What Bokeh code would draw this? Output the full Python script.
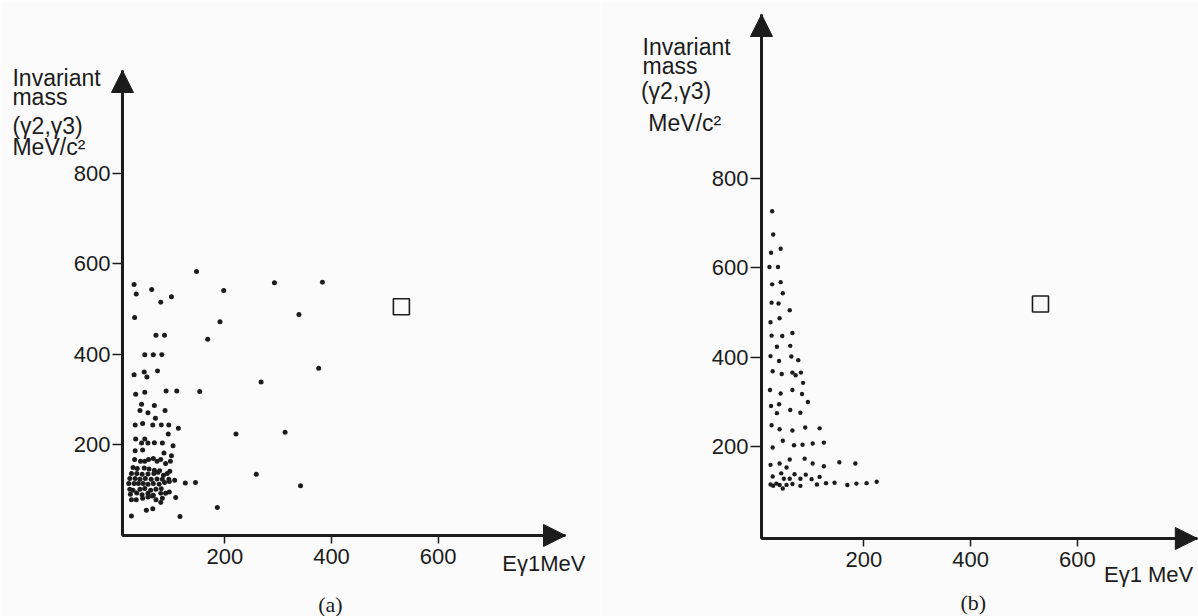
from bokeh.plotting import figure
from bokeh.layouts import row
from bokeh.models import Label, Arrow, NormalHead, FixedTicker, Range1d, LinearAxis
from bokeh.embed import file_html
from bokeh.resources import INLINE

# ---------------- data: panel (a) ----------------
a_energy = [147, 30, 34, 63, 80, 100, 198, 293, 383, 31, 191, 339, 168, 71, 87, 50, 66, 82,
            30, 49, 54, 74, 376, 268, 33, 50, 90, 110, 153, 44, 68, 41, 56, 88, 70, 32, 46, 65,
            81, 95, 113, 94, 221, 313, 33, 50, 44, 56, 68, 83, 32, 46, 103, 86, 100,
            31, 42, 50, 57, 66, 73, 80, 89, 98,
            28, 36, 49, 58, 68, 78, 97,
            25, 35, 45, 56, 67, 75, 85, 92,
            22, 32, 41, 51, 62, 73, 83, 95,
            20, 30, 38, 47, 56, 66, 77, 87, 96, 106, 126, 145, 259, 342,
            22, 28, 41, 50, 61, 71, 81, 96,
            23, 35, 45, 56, 66, 80, 89,
            25, 34, 46, 56, 64, 71, 83, 108,
            80, 53, 65, 186, 25, 116]
a_mass = [583, 554, 533, 543, 515, 527, 541, 558, 559, 481, 472, 488, 433, 442, 442, 399, 399, 399,
          355, 361, 350, 363, 369, 339, 312, 316, 319, 319, 318, 290, 287, 276, 271, 276, 259, 244, 247, 244,
          244, 244, 237, 224, 224, 228, 213, 213, 204, 204, 205, 204, 187, 189, 198, 182, 176,
          168, 164, 164, 168, 170, 164, 168, 159, 164,
          150, 148, 149, 147, 144, 143, 142,
          137, 137, 135, 136, 137, 139, 133, 137,
          126, 126, 124, 126, 124, 125, 124, 124,
          115, 115, 115, 115, 113, 115, 113, 117, 119, 122, 116, 117, 135, 110,
          102, 100, 102, 104, 100, 102, 103, 96,
          91, 94, 90, 93, 89, 93, 93,
          79, 79, 82, 85, 87, 79, 82, 84,
          73, 56, 59, 62, 43, 42]

# ---------------- data: panel (b) ----------------
b_energy = [28, 30, 26, 44, 23, 39, 28, 44, 48, 27, 40, 61, 25, 42, 27, 47, 66, 37, 62,
            25, 41, 64, 77, 29, 46, 66, 72, 82, 86, 24, 44, 66, 84, 95,
            26, 41, 37, 62, 81, 27, 42, 66, 90, 117,
            29, 48, 69, 85, 104, 125,
            25, 42, 61, 55, 89, 104, 125, 154, 184,
            29, 45, 50, 61, 70, 81, 91, 102, 117,
            25, 36, 30, 42, 48, 55, 66, 81, 112, 129, 145, 169, 186, 205, 224]
b_mass = [727, 675, 634, 643, 602, 602, 563, 568, 543, 522, 520, 505, 478, 487, 448, 447, 454, 423, 425,
          402, 391, 401, 393, 368, 362, 365, 359, 365, 342, 326, 318, 326, 317, 299,
          290, 294, 274, 281, 275, 247, 238, 235, 242, 240,
          197, 212, 202, 203, 206, 208,
          158, 161, 170, 152, 172, 161, 155, 164, 161,
          132, 139, 127, 127, 137, 127, 136, 126, 131,
          114, 116, 111, 113, 105, 113, 115, 111, 114, 117, 118, 113, 116, 117, 120]

square_a = ([531], [505])
square_b = ([531], [519])

x_ticks = [200, 400, 600]
y_ticks = [200, 400, 600, 800]

INK = "#1c1c1c"
BG = "#fbfbfb"
FONT = "Liberation Sans"


def make_panel(width, height, view_x, view_y, axis_x, axis_y, energy, mass, square, dot,
               ylabel_lines, xlabel, panel_tag, ytick_out):
    p = figure(width=width, height=height, output_backend="svg", toolbar_location=None,
               x_range=Range1d(*view_x), y_range=Range1d(*view_y),
               x_axis_location=None, y_axis_location=None,
               min_border_left=0, min_border_right=0,
               min_border_top=0, min_border_bottom=0)
    p.background_fill_color = BG
    p.border_fill_color = BG
    p.outline_line_color = None
    p.grid.visible = False

    xax = LinearAxis(fixed_location=axis_y[0], bounds=axis_x)
    yax = LinearAxis(fixed_location=axis_x[0], bounds=axis_y)
    for ax in (xax, yax):
        ax.axis_line_width = 3
        ax.axis_line_color = INK
        ax.major_tick_line_color = INK
        ax.major_tick_line_width = 1.5
        ax.major_tick_in = 0
        ax.minor_tick_line_color = None
        ax.major_label_text_font = FONT
        ax.major_label_text_font_size = "22px"
        ax.major_label_text_color = INK
    xax.ticker = FixedTicker(ticks=x_ticks)
    yax.ticker = FixedTicker(ticks=y_ticks)
    xax.major_tick_out = 8
    xax.major_label_standoff = 5
    yax.major_tick_out = ytick_out
    yax.major_label_standoff = 2
    p.add_layout(xax, "below")
    p.add_layout(yax, "left")

    # arrow heads on the axes
    p.add_layout(Arrow(end=NormalHead(size=22, fill_color=INK, line_color=INK),
                       x_start=axis_x[0], y_start=axis_y[0], x_end=axis_x[1], y_end=axis_y[0],
                       line_color=INK, line_width=3))
    p.add_layout(Arrow(end=NormalHead(size=22, fill_color=INK, line_color=INK),
                       x_start=axis_x[0], y_start=axis_y[0], x_end=axis_x[0], y_end=axis_y[1],
                       line_color=INK, line_width=3))

    p.scatter(energy, mass, size=dot, color=INK, line_color=None)
    p.scatter(square[0], square[1], marker="square", size=16, fill_color=None,
              line_color=INK, line_width=1.6)

    for (txt, lx, ly) in ylabel_lines:
        p.add_layout(Label(x=lx, y=ly, text=txt, text_font=FONT, text_font_size="23px",
                           text_color=INK, text_baseline="middle", text_align="left"))
    txt, lx, ly = xlabel
    p.add_layout(Label(x=lx, y=ly, text=txt, text_font=FONT, text_font_size="22px",
                       text_color=INK, text_baseline="middle", text_align="left"))
    txt, lx, ly = panel_tag
    p.add_layout(Label(x=lx, y=ly, text=txt, text_font="Liberation Serif",
                       text_font_size="22px", text_color=INK,
                       text_baseline="middle", text_align="center"))
    return p


pa = make_panel(600, 616, (-220.4, 904.2), (-178.8, 1181.0), (8.2, 838.6), (0, 1026.5),
                a_energy, a_mass, square_a, 5,
                [("Invariant", -198, 1009), ("mass", -198, 969),
                 ("(γ2,γ3)", -198, 903), ("MeV/c²", -198, 857)],
                ("Eγ1MeV", 720, -62), ("(a)", 398, -152), 10)

pb = make_panel(598, 616, (-293.7, 827.2), (-182.2, 1199.9), (8.1, 825.0), (-7.2, 1168.5),
                b_energy, b_mass, square_b, 4.4,
                [("Invariant", -215, 1096), ("mass", -215, 1054),
                 ("(γ2,γ3)", -218, 996), ("MeV/c²", -204, 926)],
                ("Eγ1 MeV", 650, -88), ("(b)", 405, -150), 11)

layout = row(pa, pb)
open("out.html", "w").write(file_html(layout, INLINE))
